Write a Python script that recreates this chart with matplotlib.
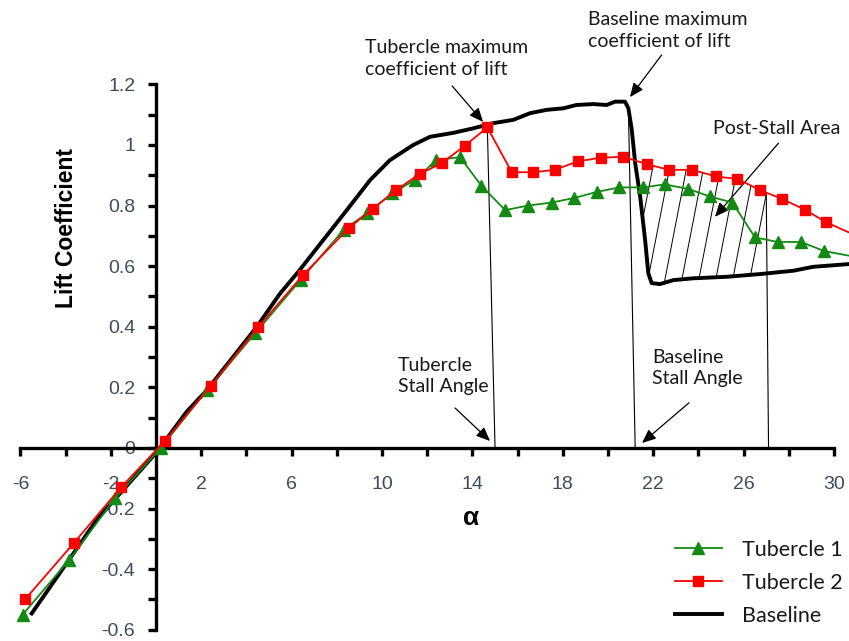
import numpy as np
import matplotlib.pyplot as plt
from matplotlib.ticker import FixedLocator

plt.rcParams['font.family'] = ['Liberation Sans', 'DejaVu Sans']

# angle of attack (deg) and lift coefficient for each wing
alpha_t1 = [-5.9, -3.85, -1.8, 0.2, 2.25, 4.4, 6.4, 8.3, 9.35, 10.45, 11.45, 12.4, 13.45, 14.4,
            15.45, 16.45, 17.5, 18.5, 19.5, 20.5, 21.55, 22.5, 23.55, 24.5, 25.5, 26.5, 27.5,
            28.55, 29.55, 31.0]
cl_t1 = [-0.55, -0.37, -0.165, 0.0, 0.19, 0.38, 0.555, 0.72, 0.775, 0.84, 0.885, 0.95, 0.96, 0.865,
         0.785, 0.80, 0.81, 0.825, 0.845, 0.86, 0.86, 0.87, 0.855, 0.83, 0.81, 0.695, 0.68,
         0.68, 0.65, 0.63]

alpha_t2 = [-5.8, -3.65, -1.55, 0.4, 2.42, 4.53, 6.52, 8.55, 9.6, 10.62, 11.68, 12.64, 13.67, 14.66,
            15.74, 16.7, 17.65, 18.66, 19.68, 20.68, 21.74, 22.7, 23.73, 24.78, 25.72, 26.73, 27.69,
            28.72, 29.65, 31.0]
cl_t2 = [-0.50, -0.315, -0.13, 0.024, 0.205, 0.40, 0.572, 0.727, 0.79, 0.851, 0.905, 0.94, 0.998, 1.058,
         0.91, 0.91, 0.918, 0.946, 0.958, 0.961, 0.936, 0.918, 0.918, 0.896, 0.888, 0.851, 0.822,
         0.786, 0.745, 0.70]

alpha_base = [-5.5, -2.6, -1.0, 0.05, 1.36, 2.24, 4.46, 5.49, 6.3, 8.44, 9.47, 10.35, 11.38, 12.12,
              13.15, 14.04, 14.92, 15.81, 16.55, 17.29, 18.02, 18.6, 19.35, 19.94, 20.31, 20.75,
              20.9, 21.05, 21.2, 21.42, 21.64, 21.78, 21.93, 22.3, 22.89, 23.77, 25.25, 26.73,
              28.2, 29.08, 30.66, 31.0]
cl_base = [-0.546, -0.235, -0.10, -0.012, 0.12, 0.19, 0.40, 0.51, 0.582, 0.785, 0.884, 0.95, 1.0, 1.027,
           1.04, 1.055, 1.072, 1.083, 1.105, 1.116, 1.121, 1.132, 1.135, 1.132, 1.143, 1.143,
           1.121, 1.05, 0.94, 0.83, 0.686, 0.577, 0.544, 0.541, 0.554, 0.56, 0.565, 0.574,
           0.585, 0.598, 0.607, 0.608]

# thin guide lines dropped to the axis: (top x, top y, foot x)
tub_stall = [14.66, 1.058, 15.0]
base_stall = [20.9, 1.121, 21.2]
post_end = [27.0, 0.835, 27.1]

xticks = [-6, -2, 2, 6, 10, 14, 18, 22, 26, 30]
yticks = [-0.6, -0.4, -0.2, 0, 0.2, 0.4, 0.6, 0.8, 1.0, 1.2]
ytick_labels = ['-0.6', '-0.4', '-0.2', '0', '0.2', '0.4', '0.6', '0.8', '1', '1.2']

tick_col = '#3f4b5b'
note_font = 'Lato'

fig = plt.figure(figsize=(8.49, 6.41), dpi=100)
ax = fig.add_axes([0.0107, 0.0033, 0.9893, 0.8887])
ax.set_xlim(-6.5, 30.66)
ax.set_ylim(-0.63, 1.25)

ax.plot(alpha_base, cl_base, color='black', lw=2.8, zorder=3, label='Baseline')
ax.plot(alpha_t1, cl_t1, color='#138a13', lw=1.3, marker='^', ms=8.5, zorder=4, label='Tubercle 1')
ax.plot(alpha_t2, cl_t2, color='#ff0000', lw=1.3, marker='s', ms=7.5, zorder=5, label='Tubercle 2')

# stall guide lines
for top_x, top_y, foot_x in (tub_stall, base_stall, post_end):
    ax.plot([top_x, foot_x], [top_y, 0], color='black', lw=0.8, zorder=2)

# hatching between the baseline and tubercle 2 after the baseline stall
slope = 0.384
for x0 in np.arange(21.0, 27.0, 0.75):
    ys = np.linspace(0.3, 1.2, 3000)
    xs = x0 + (ys - 0.55) / slope
    lo = np.interp(xs, alpha_base, cl_base)
    hi = np.interp(xs, alpha_t2, cl_t2)
    inside = (ys >= lo) & (ys <= hi) & (xs <= post_end[0])
    if inside.any():
        idx = np.where(inside)[0]
        ax.plot([xs[idx[0]], xs[idx[-1]]], [ys[idx[0]], ys[idx[-1]]], color='black', lw=0.7, zorder=2)

# spines through the origin
for s in ['top', 'right']:
    ax.spines[s].set_visible(False)
ax.spines['left'].set_position(('data', 0))
ax.spines['bottom'].set_position(('data', 0))
ax.spines['left'].set_bounds(-0.6, 1.2)
ax.spines['bottom'].set_bounds(-6, 30)
ax.spines['left'].set_linewidth(2.4)
ax.spines['bottom'].set_linewidth(2.4)

ax.xaxis.set_major_locator(FixedLocator(xticks))
ax.xaxis.set_minor_locator(FixedLocator([-4, 0, 4, 8, 12, 16, 20, 24, 28]))
ax.set_xticklabels([str(t) for t in xticks])
ax.yaxis.set_major_locator(FixedLocator(yticks))
ax.yaxis.set_minor_locator(FixedLocator([-0.5, -0.3, -0.1, 0.1, 0.3, 0.5, 0.7, 0.9, 1.1]))
ax.set_yticklabels(ytick_labels)
ax.tick_params(axis='x', which='both', direction='out', length=6, width=2.4, pad=14,
               labelsize=14, labelcolor=tick_col)
ax.tick_params(axis='y', which='both', direction='out', length=6, width=2.4, pad=9,
               labelsize=14, labelcolor=tick_col)

ax.set_ylabel('Lift Coefficient', fontsize=16.5, fontweight='bold')
ax.yaxis.set_label_coords(0.0685, 0.7213)
ax.yaxis.label.set_va('center')
ax.set_xlabel('α', fontsize=19, fontweight='bold')
ax.xaxis.set_label_coords(0.55, 0.2122)
ax.xaxis.label.set_va('center')

arrow = dict(arrowstyle='-|>,head_length=0.7,head_width=0.3', color='black', lw=0.9,
             mutation_scale=12, shrinkA=0, shrinkB=0)
txt = dict(fontsize=14, family=note_font, color='#1a1a1a', linespacing=1.3, va='center')

ax.text(9.25, 1.2855, 'Tubercle maximum\ncoefficient of lift', ha='left', **txt)
ax.annotate('', xy=(14.47, 1.076), xytext=(13.1, 1.195), arrowprops=arrow, annotation_clip=False)

ax.text(19.12, 1.378, 'Baseline maximum\ncoefficient of lift', ha='left', **txt)
ax.annotate('', xy=(20.97, 1.158), xytext=(22.37, 1.297), arrowprops=arrow, annotation_clip=False)

ax.text(27.46, 1.055, 'Post-Stall Area', ha='center', **txt)
ax.annotate('', xy=(24.73, 0.763), xytext=(27.54, 1.006), arrowprops=arrow)

ax.text(10.71, 0.238, 'Tubercle\nStall Angle', ha='left', **txt)
ax.annotate('', xy=(14.78, 0.023), xytext=(13.23, 0.132), arrowprops=arrow)

ax.text(21.95, 0.264, 'Baseline\nStall Angle', ha='left', **txt)
ax.annotate('', xy=(21.5, 0.0165), xytext=(23.58, 0.149), arrowprops=arrow)

h, l = ax.get_legend_handles_labels()
order = [1, 2, 0]
leg = ax.legend([h[i] for i in order], [l[i] for i in order], loc='upper left',
                bbox_to_anchor=(0.772, 0.188), bbox_transform=fig.transFigure,
                frameon=False, prop={'family': note_font, 'size': 15.5},
                handlelength=2.2, handletextpad=0.9, labelspacing=0.6)
for t in leg.get_texts():
    t.set_color('#1a1a1a')

fig.savefig('out.png', dpi=100)
